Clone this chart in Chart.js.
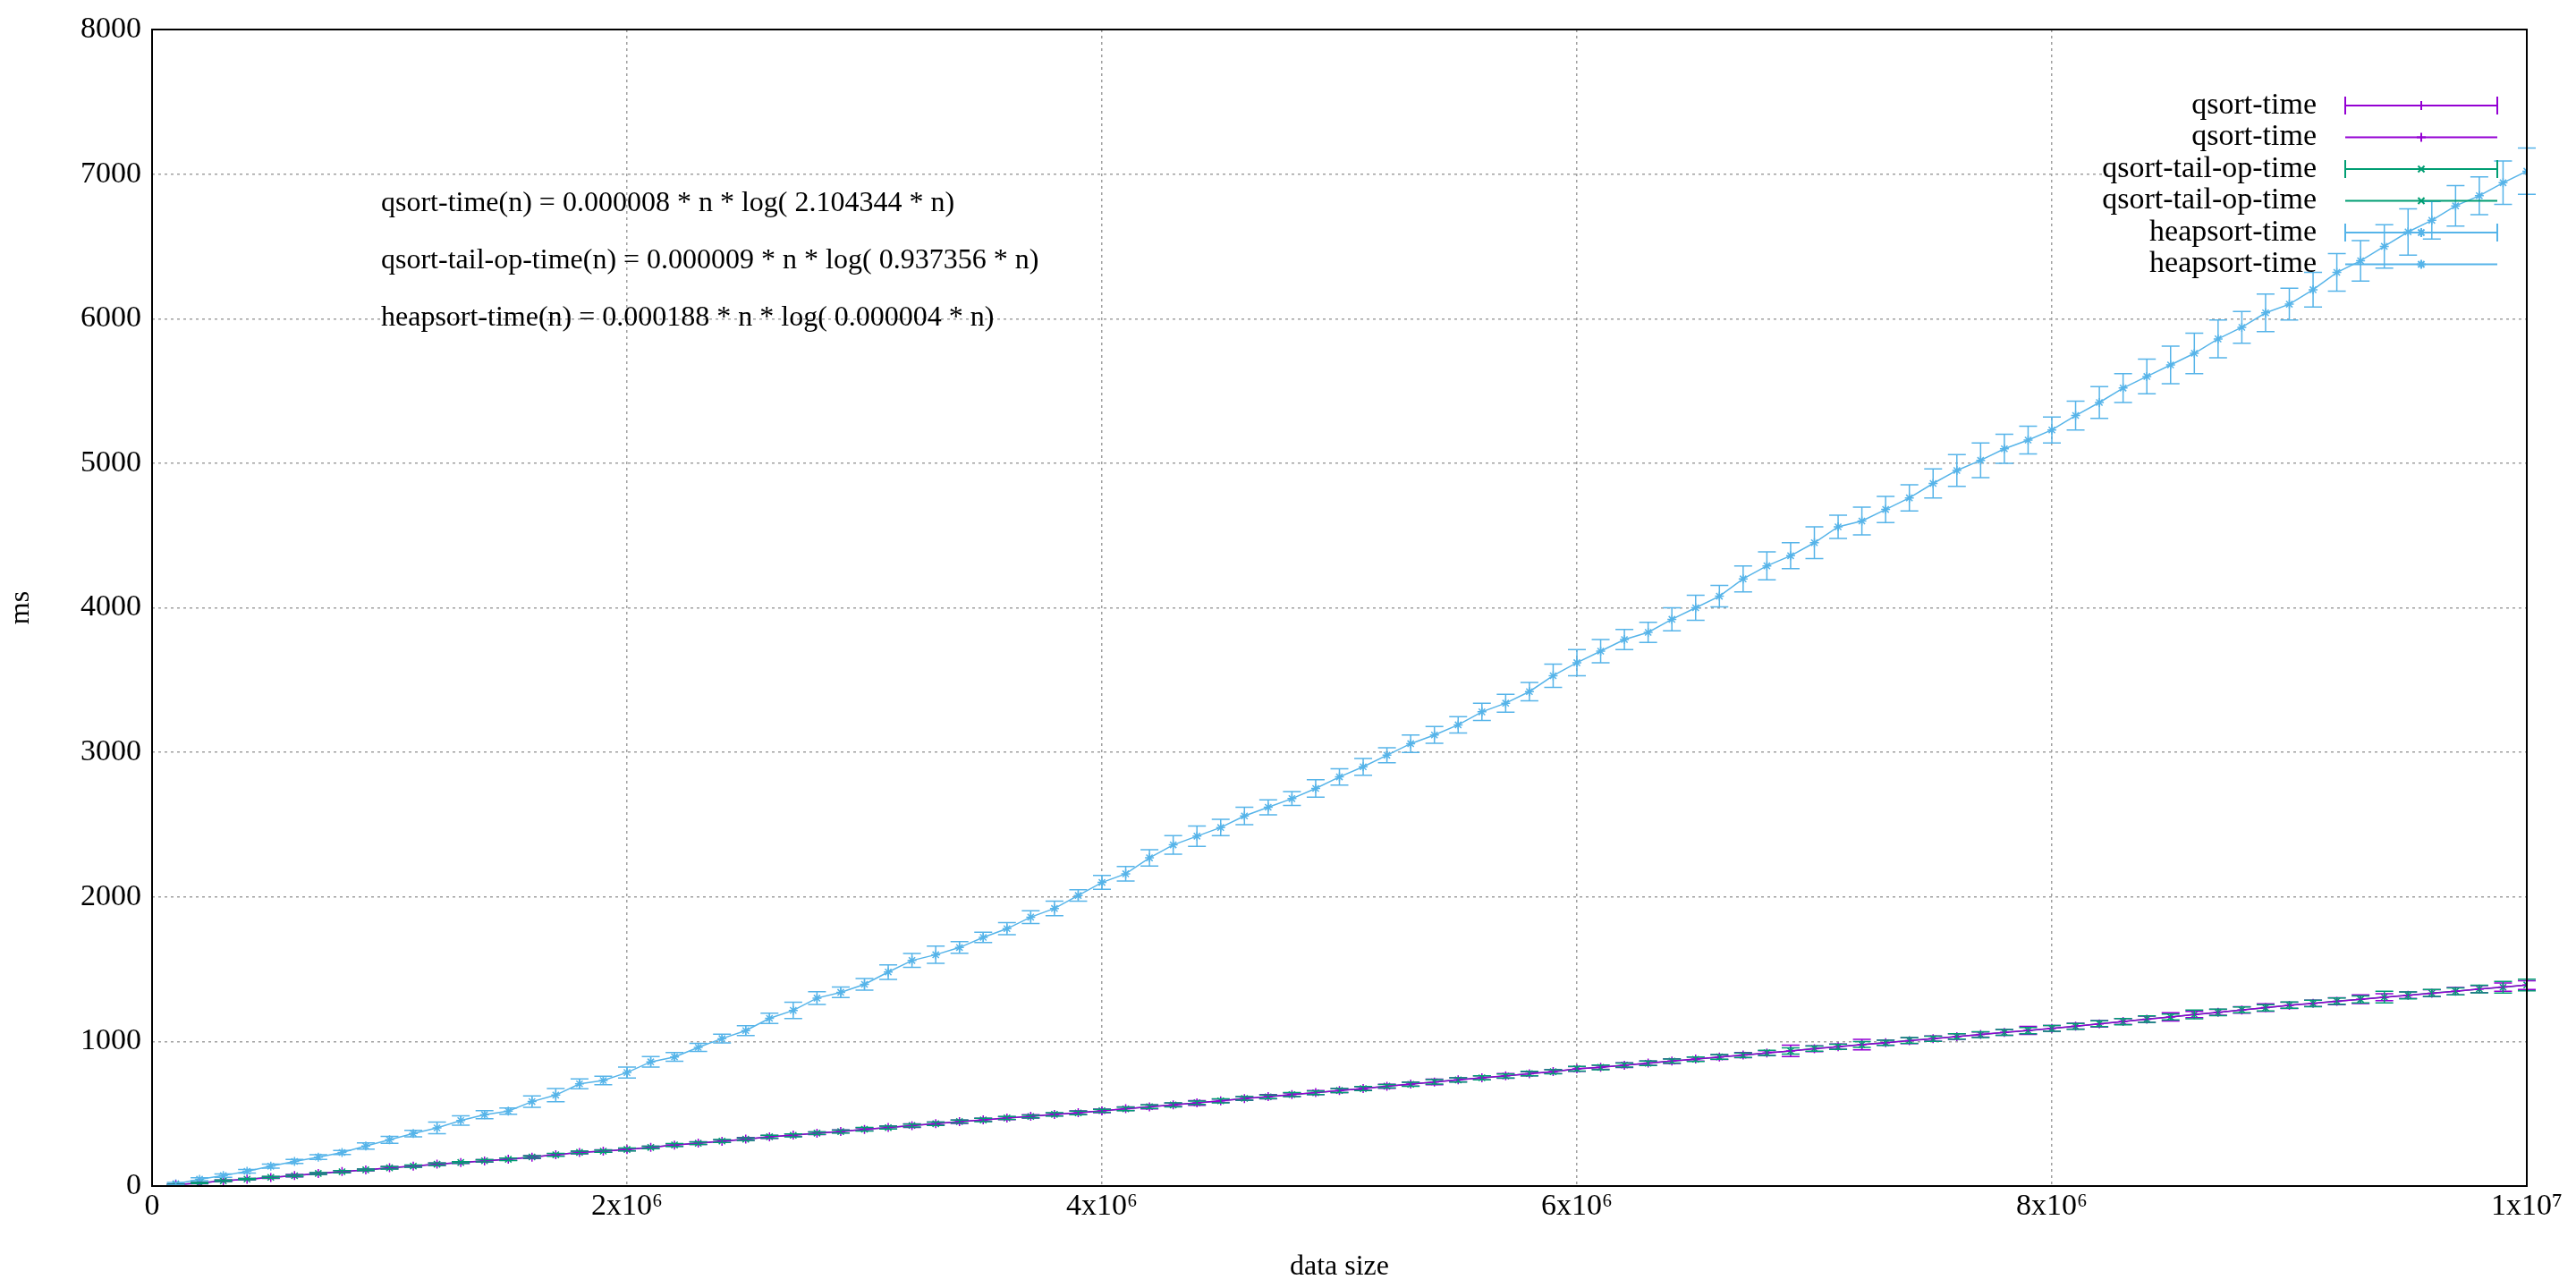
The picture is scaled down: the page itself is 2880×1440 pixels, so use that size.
<!DOCTYPE html>
<html>
<head>
<meta charset="utf-8">
<script src="https://cdn.jsdelivr.net/npm/chart.js@4"></script>
<style>
  body { margin: 0; background: #fff; }
  #wrap { width: 2880px; height: 1440px; }
</style>
</head>
<body>
<div id="wrap"><canvas id="c" width="2880" height="1440"></canvas></div>
<script>
// data size: 1e5 .. 1e7 step 1e5
const sizes = [];
for (let i = 1; i <= 100; i++) sizes.push(i * 100000);

const heapTime = [
  16, 47, 72, 102, 137, 170, 200, 232, 277, 320,
  363, 402, 453, 494, 518, 584, 629, 707, 730, 785,
  859, 893, 959, 1020, 1075, 1160, 1215, 1300, 1340, 1395,
  1480, 1560, 1600, 1650, 1720, 1780, 1860, 1920, 2010, 2100,
  2160, 2270, 2360, 2420, 2480, 2560, 2620, 2680, 2750, 2830,
  2900, 2980, 3060, 3120, 3190, 3280, 3340, 3420, 3530, 3620,
  3700, 3780, 3830, 3920, 4000, 4080, 4200, 4290, 4360, 4450,
  4560, 4600, 4680, 4760, 4860, 4950, 5020, 5100, 5160, 5230,
  5330, 5420, 5520, 5600, 5680, 5760, 5860, 5940, 6040, 6100,
  6200, 6320, 6400, 6500, 6600, 6680, 6780, 6850, 6940, 7020
];
const heapErr = [
  8, 10, 12, 12, 14, 14, 16, 14, 22, 24,
  22, 40, 32, 28, 22, 40, 46, 34, 30, 38,
  36, 30, 28, 30, 34, 36, 56, 44, 36, 40,
  50, 48, 60, 40, 36, 42, 44, 50, 40, 48,
  50, 56, 64, 70, 56, 60, 52, 48, 60, 56,
  58, 52, 60, 58, 56, 60, 62, 64, 80, 90,
  80, 70, 70, 80, 86, 74, 90, 96, 90, 110,
  80, 96, 90, 90, 100, 110, 120, 100, 96, 90,
  100, 110, 100, 120, 130, 140, 130, 110, 130, 110,
  120, 130, 140, 150, 160, 130, 140, 130, 150, 160
];
const qsortTime = [
  10, 20, 37, 47, 59, 72, 86, 100, 111, 127,
  137, 152, 162, 174, 186, 200, 217, 232, 242, 252,
  268, 283, 297, 310, 325, 340, 352, 365, 378, 392,
  405, 418, 432, 445, 458, 470, 482, 495, 507, 520,
  535, 548, 562, 575, 590, 605, 618, 632, 646, 660,
  675, 690, 705, 720, 735, 748, 762, 777, 792, 810,
  822, 836, 850, 864, 878, 892, 906, 920, 935, 950,
  964, 978, 992, 1006, 1020, 1034, 1048, 1062, 1076, 1090,
  1106, 1122, 1138, 1154, 1170, 1186, 1202, 1218, 1234, 1250,
  1264, 1278, 1292, 1306, 1320, 1334, 1348, 1362, 1376, 1390
];
const qsortErr = [
  4, 4, 5, 5, 6, 8, 6, 6, 6, 8,
  6, 8, 6, 8, 8, 10, 8, 10, 8, 8,
  8, 8, 10, 8, 10, 10, 8, 10, 10, 10,
  10, 12, 10, 12, 10, 10, 12, 10, 12, 12,
  12, 14, 12, 16, 12, 12, 14, 12, 14, 14,
  12, 14, 14, 20, 14, 14, 16, 14, 14, 16,
  14, 16, 14, 16, 14, 16, 18, 16, 40, 20,
  18, 36, 18, 20, 18, 20, 18, 20, 28, 20,
  20, 22, 20, 22, 28, 22, 20, 22, 26, 22,
  22, 24, 30, 24, 22, 24, 26, 24, 28, 30
];
const tailTime = [
  9, 21, 36, 48, 60, 71, 87, 99, 112, 126,
  138, 151, 163, 175, 185, 201, 216, 233, 241, 253,
  267, 284, 296, 311, 324, 341, 351, 366, 377, 393,
  404, 419, 431, 446, 457, 471, 481, 496, 506, 521,
  534, 549, 561, 576, 589, 606, 617, 633, 645, 661,
  674, 691, 704, 721, 734, 749, 761, 778, 791, 811,
  821, 837, 849, 865, 877, 893, 905, 921, 934, 951,
  963, 979, 991, 1007, 1019, 1035, 1047, 1063, 1075, 1091,
  1105, 1123, 1137, 1155, 1169, 1187, 1201, 1219, 1233, 1251,
  1263, 1279, 1291, 1307, 1319, 1335, 1347, 1363, 1375, 1391
];
const tailErr = [
  4, 4, 5, 5, 6, 6, 6, 8, 6, 8,
  8, 8, 6, 8, 8, 8, 10, 8, 8, 10,
  8, 10, 8, 10, 8, 10, 10, 8, 10, 12,
  10, 10, 12, 10, 12, 10, 10, 12, 12, 10,
  12, 12, 14, 12, 14, 12, 12, 14, 12, 14,
  14, 12, 14, 16, 14, 14, 14, 16, 14, 16,
  16, 14, 16, 14, 16, 16, 16, 18, 22, 18,
  18, 20, 18, 20, 18, 18, 20, 20, 22, 20,
  20, 20, 22, 22, 20, 30, 22, 20, 22, 22,
  22, 22, 24, 40, 24, 24, 24, 26, 40, 40
];

const xTicks = [0, 2e6, 4e6, 6e6, 8e6, 1e7];
const xTickLabels = ['0', '2x10⁶', '4x10⁶', '6x10⁶', '8x10⁶', '1x10⁷'];
const fitLabels = [
  'qsort-time(n) = 0.000008 * n * log( 2.104344 * n)',
  'qsort-tail-op-time(n) = 0.000009 * n * log( 0.937356 * n)',
  'heapsort-time(n) = 0.000188 * n * log( 0.000004 * n)'
];
const legendNames = ['qsort-time', 'qsort-time', 'qsort-tail-op-time', 'qsort-tail-op-time', 'heapsort-time', 'heapsort-time'];

const PURPLE = '#9400d3', GREEN = '#009e73', BLUE = '#56b4e9';
const FONT = '"Liberation Serif", "DejaVu Serif", serif';

function pts(vals) { return vals.map((v, i) => ({ x: sizes[i], y: v })); }

const errorBars = {
  id: 'errorBars',
  beforeDatasetsDraw(chart) {
    const ctx = chart.ctx;
    // legend backdrop hides the grid
    ctx.save();
    ctx.fillStyle = '#fff';
    ctx.fillRect(2360, chart.chartArea.top + 2, chart.chartArea.right - 2362, 280);
    ctx.restore();
  },
  afterDatasetsDraw(chart) {
    const ctx = chart.ctx;
    const xs = chart.scales.x, ys = chart.scales.y;
    ctx.save();
    ctx.lineWidth = 1.5;
    chart.data.datasets.forEach(ds => {
      if (!ds.err) return;
      ctx.strokeStyle = ds.borderColor;
      ds.data.forEach((p, i) => {
        const px = xs.getPixelForValue(p.x);
        const y1 = ys.getPixelForValue(p.y - ds.err[i]);
        const y2 = ys.getPixelForValue(p.y + ds.err[i]);
        ctx.beginPath();
        ctx.moveTo(px, y1); ctx.lineTo(px, y2);
        ctx.moveTo(px - 10, y1); ctx.lineTo(px + 10, y1);
        ctx.moveTo(px - 10, y2); ctx.lineTo(px + 10, y2);
        ctx.stroke();
      });
    });
    ctx.restore();
  },
  afterDraw(chart) {
    const ctx = chart.ctx;
    const a = chart.chartArea;
    ctx.save();
    ctx.strokeStyle = '#000';
    ctx.lineWidth = 2;
    ctx.strokeRect(a.left, a.top, a.right - a.left, a.bottom - a.top);
    // fit formulas
    ctx.fillStyle = '#000';
    ctx.font = '32px ' + FONT;
    ctx.textBaseline = 'middle';
    fitLabels.forEach((t, i) => ctx.fillText(t, 426, 228 + i * 64));
    // legend
    const cols = [PURPLE, PURPLE, GREEN, GREEN, BLUE, BLUE];
    const styles = ['cross', 'cross', 'crossRot', 'crossRot', 'star', 'star'];
    ctx.textAlign = 'right';
    ctx.font = '34px ' + FONT;
    legendNames.forEach((t, i) => {
      const y = 118 + i * 35.5;
      ctx.fillStyle = '#000';
      ctx.fillText(t, 2590, y);
      ctx.strokeStyle = cols[i];
      ctx.lineWidth = 2;
      ctx.beginPath();
      ctx.moveTo(2622, y); ctx.lineTo(2792, y);
      if (i % 2 === 0) {
        ctx.moveTo(2622, y - 10); ctx.lineTo(2622, y + 10);
        ctx.moveTo(2792, y - 10); ctx.lineTo(2792, y + 10);
      }
      ctx.stroke();
      Chart.helpers.drawPoint(ctx, { pointStyle: styles[i], radius: 5, borderWidth: 1.5 }, 2707, y);
    });
    ctx.restore();
  }
};

function lineSet(label, vals, err, color, style) {
  return {
    label, data: pts(vals), err,
    borderColor: color, backgroundColor: color,
    borderWidth: 1.5, pointStyle: style, pointRadius: 5, pointBorderWidth: 1.5,
    tension: 0
  };
}

new Chart(document.getElementById('c'), {
  type: 'line',
  data: {
    datasets: [
      lineSet('qsort-time', qsortTime, qsortErr, PURPLE, 'cross'),
      lineSet('qsort-tail-op-time', tailTime, tailErr, GREEN, 'crossRot'),
      lineSet('heapsort-time', heapTime, heapErr, BLUE, 'star')
    ]
  },
  options: {
    responsive: false,
    animation: false,
    devicePixelRatio: 1,
    layout: { padding: { top: 33, right: 55, left: 0, bottom: 0 } },
    plugins: { legend: { display: false }, tooltip: { enabled: false } },
    scales: {
      x: {
        type: 'linear', min: 0, max: 1e7,
        afterBuildTicks: s => { s.ticks = xTicks.map(v => ({ value: v })); },
        afterFit: s => { s.height = 114; },
        ticks: {
          color: '#000', font: { family: FONT, size: 34 },
          callback: v => xTickLabels[xTicks.indexOf(v)], maxRotation: 0
        },
        grid: { color: '#a0a0a0', tickLength: 0, lineWidth: 1.5 },
        border: { display: false, dash: [3, 4] },
        title: { display: true, text: 'data size', color: '#000', font: { family: FONT, size: 32 }, padding: { top: 4 } }
      },
      y: {
        min: 0, max: 8000,
        afterFit: s => { s.width = 170; },
        ticks: { stepSize: 1000, color: '#000', font: { family: FONT, size: 34 }, padding: 12, callback: v => String(v) },
        grid: { color: '#a0a0a0', tickLength: 0, lineWidth: 1.5 },
        border: { display: false, dash: [3, 4] },
        title: { display: true, text: 'ms', color: '#000', font: { family: FONT, size: 32 } }
      }
    }
  },
  plugins: [errorBars]
});
</script>
</body>
</html>
